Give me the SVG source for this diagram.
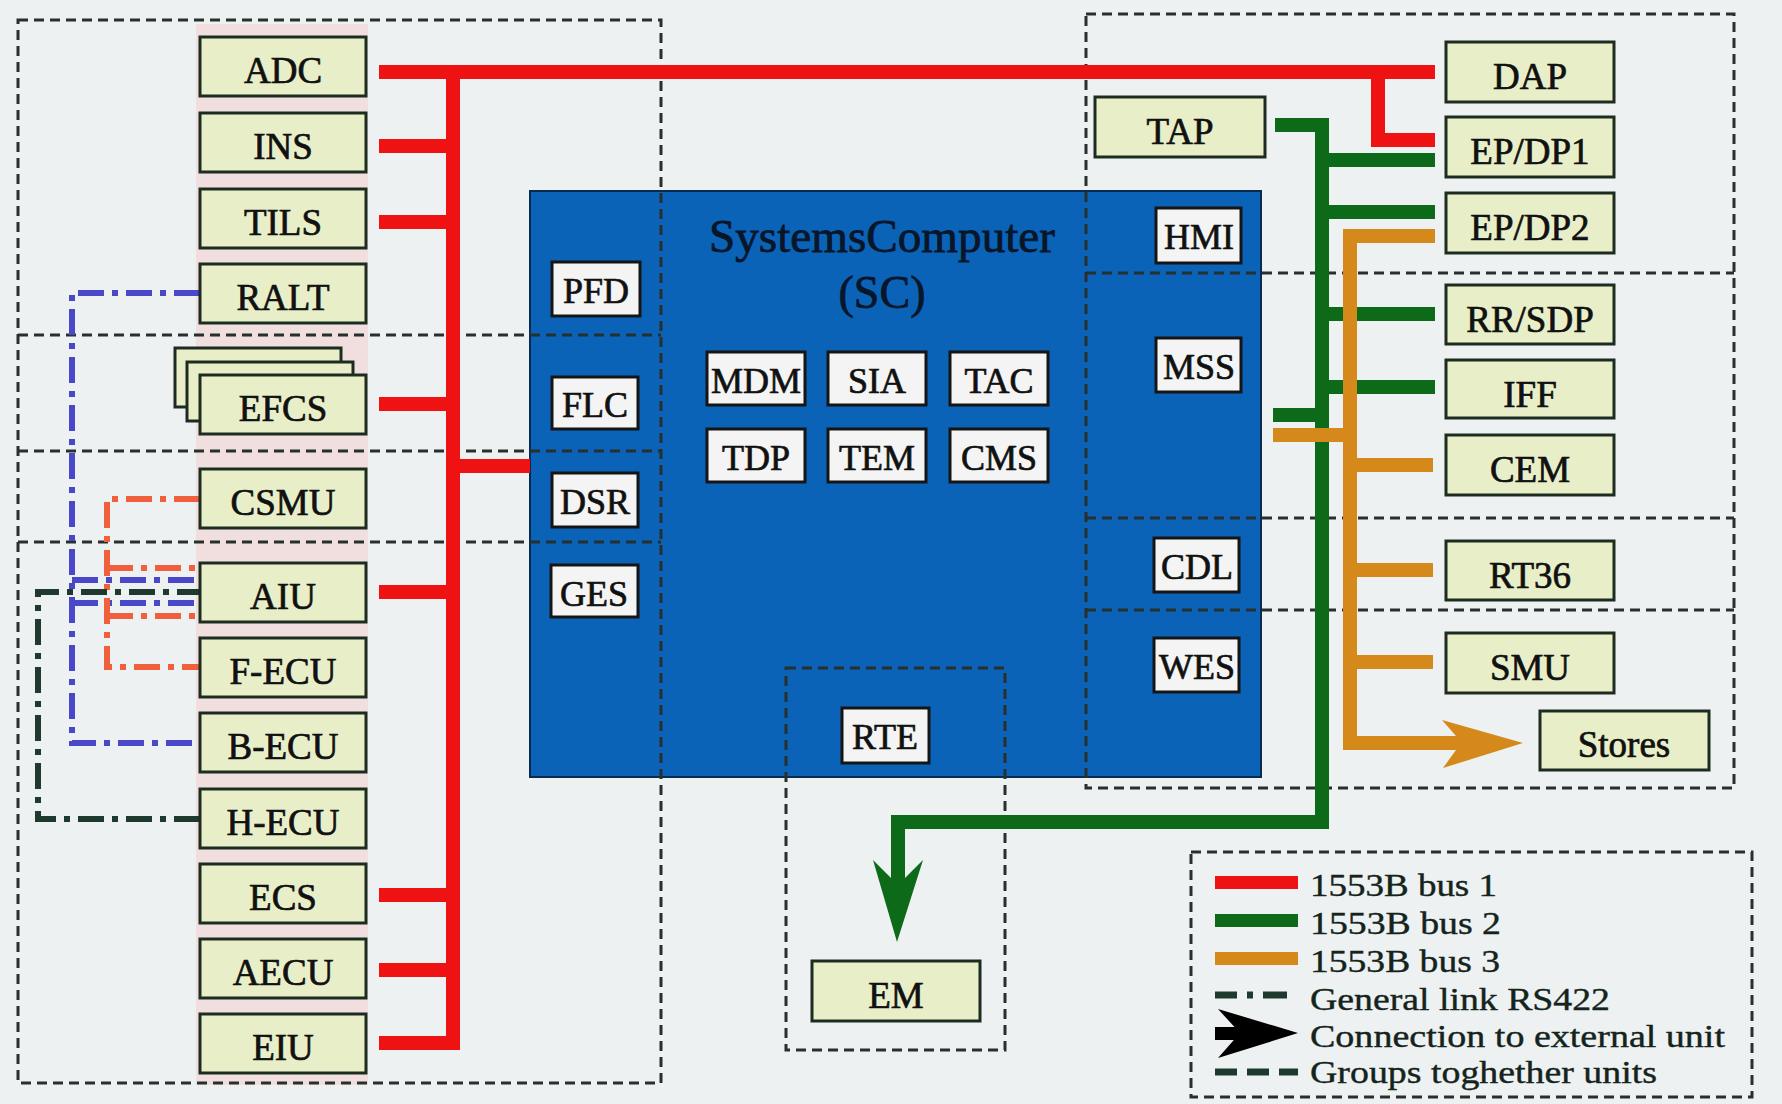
<svg xmlns="http://www.w3.org/2000/svg" width="1782" height="1104" viewBox="0 0 1782 1104">
<style>
.box{fill:#e8efc8;stroke:#1c2c20;stroke-width:3}
.wbox{fill:#f4f4f4;stroke:#151515;stroke-width:3}
.lbl{font-family:"Liberation Serif","Times New Roman",serif;font-size:37px;fill:#111;stroke:#111;stroke-width:0.7;text-anchor:middle}
.wl{font-family:"Liberation Serif","Times New Roman",serif;font-size:36px;fill:#111;stroke:#111;stroke-width:0.7;text-anchor:middle}
.grp{fill:none;stroke:#27302c;stroke-width:3;stroke-dasharray:10 6}
.bus{fill:none;stroke-width:14;stroke-linejoin:miter;stroke-linecap:butt}
.red{stroke:#ef1212}
.grn{stroke:#0d6a18}
.org{stroke:#d4891a}
.rs{fill:none;stroke-width:6;stroke-dasharray:26 8 6 8}
.leg{font-family:"Liberation Serif","Times New Roman",serif;font-size:32px;fill:#14241c;stroke:#14241c;stroke-width:0.4}
</style>
<rect x="0" y="0" width="1782" height="1104" fill="#eef1f1"/>
<rect x="196" y="24" width="172" height="1061" fill="#f1dede"/>

<g id="sc">
<rect x="530" y="191" width="731" height="586" fill="#0b63b8" stroke="#0a2a50" stroke-width="2"/>
<text x="882" y="252" font-family="'Liberation Serif','Times New Roman',serif" font-size="46" fill="#08162a" stroke="#08162a" stroke-width="0.8" text-anchor="middle" textLength="346" lengthAdjust="spacingAndGlyphs">SystemsComputer</text>
<text x="882" y="308" font-family="'Liberation Serif','Times New Roman',serif" font-size="46" fill="#08162a" stroke="#08162a" stroke-width="0.8" text-anchor="middle">(SC)</text>
</g>

<g id="groups">
<rect class="grp" x="18" y="20" width="643" height="1063"/>
<path class="grp" d="M18,335 H661 M18,451 H661 M18,542 H661"/>
<rect class="grp" x="1086" y="14" width="648" height="774"/>
<path class="grp" d="M1086,273 H1734 M1086,518 H1734 M1086,610 H1734"/>
<rect class="grp" x="786" y="668" width="219" height="382"/>
</g>

<g id="connectors">
<path class="bus red" d="M379,72 H1435 M453,72 V1050 M379,146 H453 M379,222 H453 M379,404 H453 M379,592 H453 M379,895 H453 M379,970 H453 M379,1043 H460 M453,466 H530 M1378,72 V140 H1435"/>
<path class="bus grn" d="M1322,160 H1435 M1322,212 H1435 M1322,314 H1435 M1322,387 H1435 M1275,125 H1322 M1273,415 H1322"/>
<path class="bus org" d="M1273,435 H1322"/>
<path class="bus grn" d="M1322,118 V822 H898 V880"/>
<polygon points="897,942 873,860 891,878 905,878 923,860" fill="#0d6a18"/>
<path class="bus org" d="M1435,236 H1350 V743 H1456 M1350,465 H1433 M1350,570 H1433 M1350,662 H1433 M1315,435 H1350"/>
<polygon points="1523,743 1442,720 1456,736 1456,750 1443,768" fill="#d4891a"/>
<path class="rs" stroke="#4848c8" d="M200,293 H72 V743 H200 M72,580 H200 M72,603 H200"/>
<path class="rs" stroke="#f0603c" d="M200,499 H107 V667 H200 M107,568 H200 M107,616 H200"/>
<path class="rs" stroke="#1e3a2e" d="M200,819 H38 V592 H200"/>
</g>

<g id="n-adc"><rect class="box" x="200" y="37" width="166" height="59"/><text class="lbl" x="283" y="83">ADC</text></g>
<g id="n-ins"><rect class="box" x="200" y="113" width="166" height="59"/><text class="lbl" x="283" y="159">INS</text></g>
<g id="n-tils"><rect class="box" x="200" y="189" width="166" height="59"/><text class="lbl" x="283" y="235">TILS</text></g>
<g id="n-ralt"><rect class="box" x="200" y="264" width="166" height="59"/><text class="lbl" x="283" y="310">RALT</text></g>
<g id="n-efcs">
<rect class="box" x="175" y="348" width="166" height="59"/>
<rect class="box" x="187" y="362" width="166" height="59"/>
<rect class="box" x="200" y="375" width="166" height="59"/><text class="lbl" x="283" y="421">EFCS</text></g>
<g id="n-csmu"><rect class="box" x="200" y="469" width="166" height="59"/><text class="lbl" x="283" y="515">CSMU</text></g>
<g id="n-aiu"><rect class="box" x="200" y="563" width="166" height="59"/><text class="lbl" x="283" y="609">AIU</text></g>
<g id="n-fecu"><rect class="box" x="200" y="638" width="166" height="59"/><text class="lbl" x="283" y="684">F-ECU</text></g>
<g id="n-becu"><rect class="box" x="200" y="713" width="166" height="59"/><text class="lbl" x="283" y="759">B-ECU</text></g>
<g id="n-hecu"><rect class="box" x="200" y="789" width="166" height="59"/><text class="lbl" x="283" y="835">H-ECU</text></g>
<g id="n-ecs"><rect class="box" x="200" y="864" width="166" height="59"/><text class="lbl" x="283" y="910">ECS</text></g>
<g id="n-aecu"><rect class="box" x="200" y="939" width="166" height="59"/><text class="lbl" x="283" y="985">AECU</text></g>
<g id="n-eiu"><rect class="box" x="200" y="1014" width="166" height="59"/><text class="lbl" x="283" y="1060">EIU</text></g>

<g id="n-dap"><rect class="box" x="1446" y="42" width="168" height="60"/><text class="lbl" x="1530" y="89">DAP</text></g>
<g id="n-epdp1"><rect class="box" x="1446" y="117" width="168" height="60"/><text class="lbl" x="1530" y="164">EP/DP1</text></g>
<g id="n-epdp2"><rect class="box" x="1446" y="193" width="168" height="60"/><text class="lbl" x="1530" y="240">EP/DP2</text></g>
<g id="n-rrsdp"><rect class="box" x="1446" y="285" width="168" height="59"/><text class="lbl" x="1530" y="332">RR/SDP</text></g>
<g id="n-iff"><rect class="box" x="1446" y="360" width="168" height="58"/><text class="lbl" x="1530" y="407">IFF</text></g>
<g id="n-cem"><rect class="box" x="1446" y="435" width="168" height="60"/><text class="lbl" x="1530" y="482">CEM</text></g>
<g id="n-rt36"><rect class="box" x="1446" y="541" width="168" height="59"/><text class="lbl" x="1530" y="588">RT36</text></g>
<g id="n-smu"><rect class="box" x="1446" y="633" width="168" height="60"/><text class="lbl" x="1530" y="680">SMU</text></g>
<g id="n-stores"><rect class="box" x="1540" y="711" width="169" height="59"/><text class="lbl" x="1624" y="757">Stores</text></g>
<g id="n-tap"><rect class="box" x="1095" y="97" width="170" height="60"/><text class="lbl" x="1180" y="144">TAP</text></g>
<g id="n-em"><rect class="box" x="812" y="961" width="168" height="60"/><text class="lbl" x="896" y="1008">EM</text></g>

<g id="n-pfd"><rect class="wbox" x="552" y="262" width="88" height="54"/><text class="wl" x="596" y="303">PFD</text></g>
<g id="n-flc"><rect class="wbox" x="552" y="377" width="86" height="52"/><text class="wl" x="595" y="417">FLC</text></g>
<g id="n-dsr"><rect class="wbox" x="552" y="473" width="86" height="54"/><text class="wl" x="595" y="514">DSR</text></g>
<g id="n-ges"><rect class="wbox" x="551" y="565" width="87" height="52"/><text class="wl" x="594" y="606">GES</text></g>
<g id="n-mdm"><rect class="wbox" x="707" y="352" width="98" height="53"/><text class="wl" x="756" y="393">MDM</text></g>
<g id="n-sia"><rect class="wbox" x="828" y="352" width="98" height="53"/><text class="wl" x="877" y="393">SIA</text></g>
<g id="n-tac"><rect class="wbox" x="950" y="352" width="98" height="53"/><text class="wl" x="999" y="393">TAC</text></g>
<g id="n-tdp"><rect class="wbox" x="707" y="429" width="98" height="53"/><text class="wl" x="756" y="470">TDP</text></g>
<g id="n-tem"><rect class="wbox" x="828" y="429" width="98" height="53"/><text class="wl" x="877" y="470">TEM</text></g>
<g id="n-cms"><rect class="wbox" x="950" y="429" width="98" height="53"/><text class="wl" x="999" y="470">CMS</text></g>
<g id="n-hmi"><rect class="wbox" x="1156" y="208" width="85" height="55"/><text class="wl" x="1199" y="249">HMI</text></g>
<g id="n-mss"><rect class="wbox" x="1156" y="338" width="85" height="54"/><text class="wl" x="1199" y="379">MSS</text></g>
<g id="n-cdl"><rect class="wbox" x="1154" y="538" width="85" height="54"/><text class="wl" x="1197" y="579">CDL</text></g>
<g id="n-wes"><rect class="wbox" x="1154" y="638" width="85" height="54"/><text class="wl" x="1197" y="679">WES</text></g>
<g id="n-rte"><rect class="wbox" x="842" y="708" width="87" height="55"/><text class="wl" x="885" y="749">RTE</text></g>

<g id="legend">
<rect class="grp" x="1191" y="852" width="561" height="245"/>
<path d="M1215,882.5 H1298" stroke="#ee1313" stroke-width="13"/>
<path d="M1215,920.5 H1298" stroke="#0d6a18" stroke-width="13"/>
<path d="M1215,958.5 H1298" stroke="#d4891a" stroke-width="13"/>
<path d="M1215,995 H1292" stroke="#1e3a2e" stroke-width="7" stroke-dasharray="22 10 6 10 24" fill="none"/>
<rect x="1215" y="1027" width="26" height="13" fill="#000"/>
<polygon points="1298,1033 1218,1009 1240,1033 1218,1058" fill="#000"/>
<path d="M1215,1072 H1298" stroke="#1e3a2e" stroke-width="7" stroke-dasharray="22 10" fill="none"/>
<text class="leg" x="1310" y="896" textLength="187" lengthAdjust="spacingAndGlyphs">1553B bus 1</text>
<text class="leg" x="1310" y="934" textLength="191" lengthAdjust="spacingAndGlyphs">1553B bus 2</text>
<text class="leg" x="1310" y="972" textLength="190" lengthAdjust="spacingAndGlyphs">1553B bus 3</text>
<text class="leg" x="1310" y="1010" textLength="300" lengthAdjust="spacingAndGlyphs">General link RS422</text>
<text class="leg" x="1310" y="1047" textLength="415" lengthAdjust="spacingAndGlyphs">Connection to external unit</text>
<text class="leg" x="1310" y="1083" textLength="347" lengthAdjust="spacingAndGlyphs">Groups toghether units</text>
</g>
</svg>
